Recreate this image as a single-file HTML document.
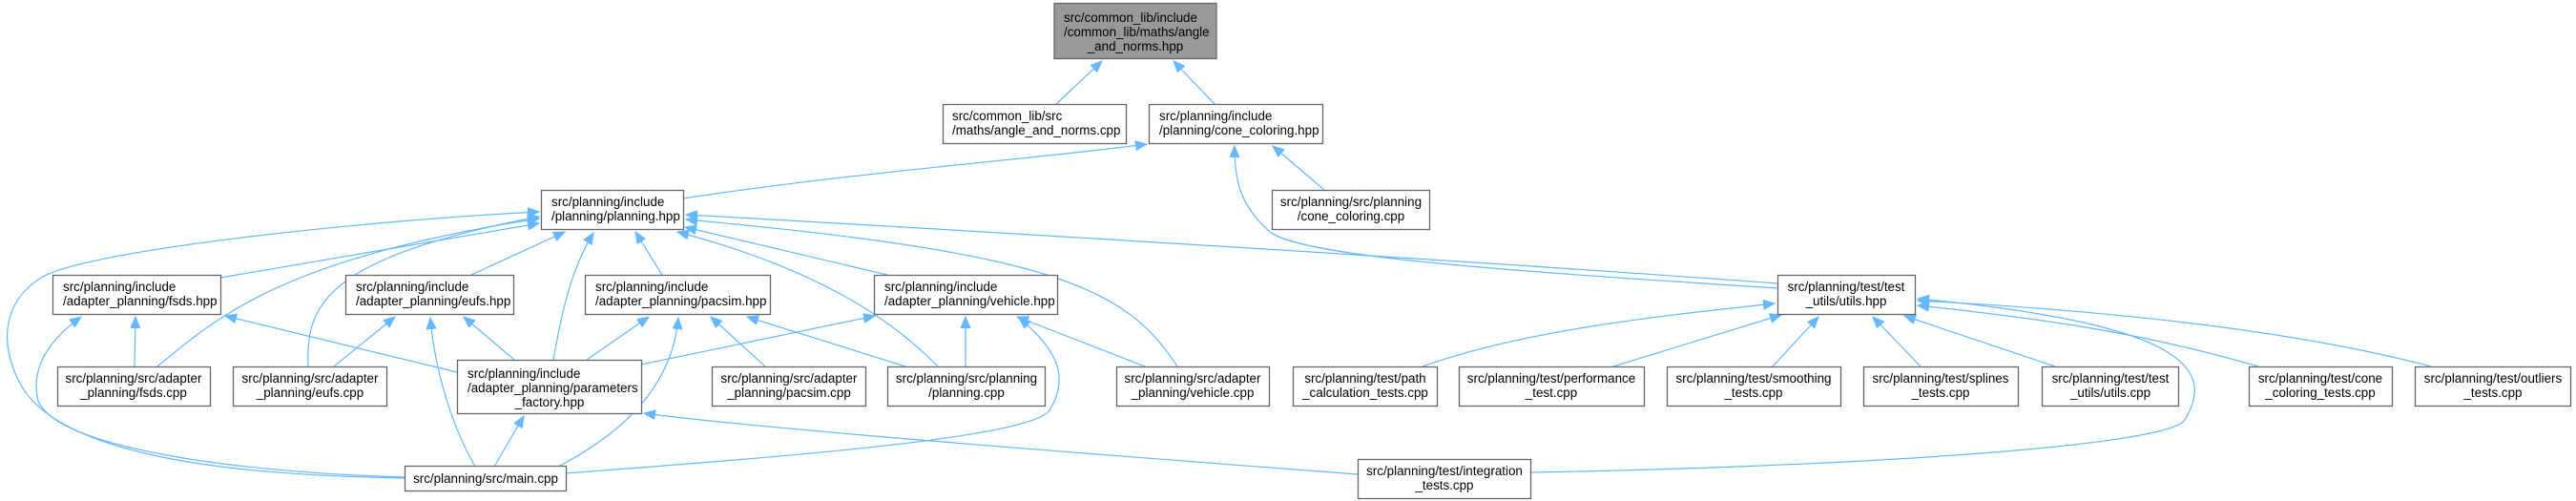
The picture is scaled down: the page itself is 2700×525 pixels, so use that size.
<!DOCTYPE html>
<html><head><meta charset="utf-8"><style>
html,body{margin:0;padding:0;background:#fff;}
svg{display:block;}
text{font-family:"Liberation Sans",Arial,sans-serif;font-size:13.4px;fill:#000;}
.n{fill:#fff;stroke:#666;stroke-width:1.3;}
.e{fill:none;stroke:#63b8ff;stroke-width:1.2;}
</style></head><body>
<svg width="2700" height="525" viewBox="0 0 2700 525" xmlns="http://www.w3.org/2000/svg">
<defs>
<marker id="a" markerUnits="userSpaceOnUse" markerWidth="14" markerHeight="12" refX="12" refY="5" orient="auto">
<path d="M0,0 L12,5 L0,10 Z" fill="#63b8ff" stroke="#63b8ff"/>
</marker>
</defs>
<g class="edges">
<path class="e" marker-end="url(#a)" d="M1107,109 L1155,64"/>
<path class="e" marker-end="url(#a)" d="M1273,109 L1230,64"/>
<path class="e" marker-end="url(#a)" d="M716,208 C900,180 1100,165 1202,151"/>
<path class="e" marker-end="url(#a)" d="M1388,199 L1334,153"/>
<path class="e" marker-end="url(#a)" d="M1863,302 C1600,285 1360,270 1330,242 C1300,215 1294,190 1294,153"/>
<path class="e" marker-end="url(#a)" d="M1863,297 C1500,270 900,235 719,225"/>
<path class="e" marker-end="url(#a)" d="M1234,384 C1180,300 1100,265 719,230"/>
<path class="e" marker-end="url(#a)" d="M930,288 L718,238"/>
<path class="e" marker-end="url(#a)" d="M983,384 C930,330 850,280 710,243"/>
<path class="e" marker-end="url(#a)" d="M424,501 C250,498 60,480 20,400 C-5,350 10,310 45,290 C100,260 400,230 565,222"/>
<path class="e" marker-end="url(#a)" d="M424,500 C250,495 60,470 40,420 C30,380 60,350 85,332"/>
<path class="e" marker-end="url(#a)" d="M231,291 L565,234"/>
<path class="e" marker-end="url(#a)" d="M165,384 C230,330 300,270 565,229"/>
<path class="e" marker-end="url(#a)" d="M323,384 C320,320 340,270 565,227"/>
<path class="e" marker-end="url(#a)" d="M494,288 L592,243"/>
<path class="e" marker-end="url(#a)" d="M580,377 C590,320 600,280 622,244"/>
<path class="e" marker-end="url(#a)" d="M694,288 L666,243"/>
<path class="e" marker-end="url(#a)" d="M141,384 L142,332"/>
<path class="e" marker-end="url(#a)" d="M479,390 L236,331"/>
<path class="e" marker-end="url(#a)" d="M350,384 L414,332"/>
<path class="e" marker-end="url(#a)" d="M498,489 C470,440 455,380 451,333"/>
<path class="e" marker-end="url(#a)" d="M539,377 L486,332"/>
<path class="e" marker-end="url(#a)" d="M518,489 L549,436"/>
<path class="e" marker-end="url(#a)" d="M615,377 L680,332"/>
<path class="e" marker-end="url(#a)" d="M585,489 C660,450 705,400 711,333"/>
<path class="e" marker-end="url(#a)" d="M802,384 L745,332"/>
<path class="e" marker-end="url(#a)" d="M949,384 L783,332"/>
<path class="e" marker-end="url(#a)" d="M1012,384 L1012,332"/>
<path class="e" marker-end="url(#a)" d="M1200,384 L1066,332"/>
<path class="e" marker-end="url(#a)" d="M593,496 C800,480 1080,460 1100,430 C1125,390 1100,360 1068,333"/>
<path class="e" marker-end="url(#a)" d="M672,382 L917,331"/>
<path class="e" marker-end="url(#a)" d="M1423,497 C1200,480 800,450 675,433"/>
<path class="e" marker-end="url(#a)" d="M1604,495 C1900,490 2270,470 2290,440 C2320,390 2300,340 2010,313"/>
<path class="e" marker-end="url(#a)" d="M1491,384 C1600,345 1750,330 1860,318"/>
<path class="e" marker-end="url(#a)" d="M1691,384 L1867,330"/>
<path class="e" marker-end="url(#a)" d="M1858,384 L1906,332"/>
<path class="e" marker-end="url(#a)" d="M2013,384 L1963,332"/>
<path class="e" marker-end="url(#a)" d="M2154,384 L1996,331"/>
<path class="e" marker-end="url(#a)" d="M2367,384 C2250,350 2150,335 2010,320"/>
<path class="e" marker-end="url(#a)" d="M2548,384 C2400,345 2200,325 2010,315"/>
</g>
<g class="nodes">
<rect x="1105" y="3.5" width="170" height="58" style="fill:#999;stroke:#666;stroke-width:1.3"/>
<text x="1115" y="23">src/common_lib/include</text>
<text x="1115" y="38">/common_lib/maths/angle</text>
<text x="1190" y="53" text-anchor="middle">_and_norms.hpp</text>

<rect class="n" x="988.5" y="109.5" width="192" height="41"/>
<text x="998" y="126">src/common_lib/src</text>
<text x="998" y="141">/maths/angle_and_norms.cpp</text>

<rect class="n" x="1204.5" y="109.5" width="182" height="41"/>
<text x="1215" y="126">src/planning/include</text>
<text x="1215" y="141">/planning/cone_coloring.hpp</text>

<rect class="n" x="1333.5" y="199.5" width="165" height="41"/>
<text x="1416" y="216" text-anchor="middle">src/planning/src/planning</text>
<text x="1416" y="231" text-anchor="middle">/cone_coloring.cpp</text>

<rect class="n" x="567.5" y="199.5" width="149" height="41"/>
<text x="578" y="216">src/planning/include</text>
<text x="578" y="231">/planning/planning.hpp</text>

<rect class="n" x="55.5" y="288.5" width="176" height="41"/>
<text x="66" y="305">src/planning/include</text>
<text x="66" y="320">/adapter_planning/fsds.hpp</text>

<rect class="n" x="362.5" y="288.5" width="176" height="41"/>
<text x="373" y="305">src/planning/include</text>
<text x="373" y="320">/adapter_planning/eufs.hpp</text>

<rect class="n" x="613.5" y="288.5" width="194" height="41"/>
<text x="624" y="305">src/planning/include</text>
<text x="624" y="320">/adapter_planning/pacsim.hpp</text>

<rect class="n" x="916.5" y="288.5" width="192" height="41"/>
<text x="927" y="305">src/planning/include</text>
<text x="927" y="320">/adapter_planning/vehicle.hpp</text>

<rect class="n" x="1863.5" y="288.5" width="144" height="41"/>
<text x="1935" y="305" text-anchor="middle">src/planning/test/test</text>
<text x="1935" y="320" text-anchor="middle">_utils/utils.hpp</text>

<rect class="n" x="60.5" y="384.5" width="160" height="41"/>
<text x="140" y="401" text-anchor="middle">src/planning/src/adapter</text>
<text x="140" y="416" text-anchor="middle">_planning/fsds.cpp</text>

<rect class="n" x="244.5" y="384.5" width="161" height="41"/>
<text x="325" y="401" text-anchor="middle">src/planning/src/adapter</text>
<text x="325" y="416" text-anchor="middle">_planning/eufs.cpp</text>

<rect class="n" x="479.5" y="377.5" width="193" height="56"/>
<text x="490" y="396">src/planning/include</text>
<text x="490" y="411">/adapter_planning/parameters</text>
<text x="576" y="426" text-anchor="middle">_factory.hpp</text>

<rect class="n" x="746.5" y="384.5" width="161" height="41"/>
<text x="827" y="401" text-anchor="middle">src/planning/src/adapter</text>
<text x="827" y="416" text-anchor="middle">_planning/pacsim.cpp</text>

<rect class="n" x="930.5" y="384.5" width="165" height="41"/>
<text x="1013" y="401" text-anchor="middle">src/planning/src/planning</text>
<text x="1013" y="416" text-anchor="middle">/planning.cpp</text>

<rect class="n" x="1170.5" y="384.5" width="160" height="41"/>
<text x="1250" y="401" text-anchor="middle">src/planning/src/adapter</text>
<text x="1250" y="416" text-anchor="middle">_planning/vehicle.cpp</text>

<rect class="n" x="1355.5" y="384.5" width="151" height="41"/>
<text x="1431" y="401" text-anchor="middle">src/planning/test/path</text>
<text x="1431" y="416" text-anchor="middle">_calculation_tests.cpp</text>

<rect class="n" x="1529.5" y="384.5" width="194" height="41"/>
<text x="1626" y="401" text-anchor="middle">src/planning/test/performance</text>
<text x="1626" y="416" text-anchor="middle">_test.cpp</text>

<rect class="n" x="1747.5" y="384.5" width="182" height="41"/>
<text x="1838" y="401" text-anchor="middle">src/planning/test/smoothing</text>
<text x="1838" y="416" text-anchor="middle">_tests.cpp</text>

<rect class="n" x="1953.5" y="384.5" width="162" height="41"/>
<text x="2034" y="401" text-anchor="middle">src/planning/test/splines</text>
<text x="2034" y="416" text-anchor="middle">_tests.cpp</text>

<rect class="n" x="2140.5" y="384.5" width="143" height="41"/>
<text x="2212" y="401" text-anchor="middle">src/planning/test/test</text>
<text x="2212" y="416" text-anchor="middle">_utils/utils.cpp</text>

<rect class="n" x="2357.5" y="384.5" width="150" height="41"/>
<text x="2432" y="401" text-anchor="middle">src/planning/test/cone</text>
<text x="2432" y="416" text-anchor="middle">_coloring_tests.cpp</text>

<rect class="n" x="2531.5" y="384.5" width="163" height="41"/>
<text x="2613" y="401" text-anchor="middle">src/planning/test/outliers</text>
<text x="2613" y="416" text-anchor="middle">_tests.cpp</text>

<rect class="n" x="424.5" y="488.5" width="169" height="26"/>
<text x="509" y="506" text-anchor="middle">src/planning/src/main.cpp</text>

<rect class="n" x="1423.5" y="481.5" width="181" height="41"/>
<text x="1514" y="498" text-anchor="middle">src/planning/test/integration</text>
<text x="1514" y="513" text-anchor="middle">_tests.cpp</text>
</g>
</svg>
</body></html>
